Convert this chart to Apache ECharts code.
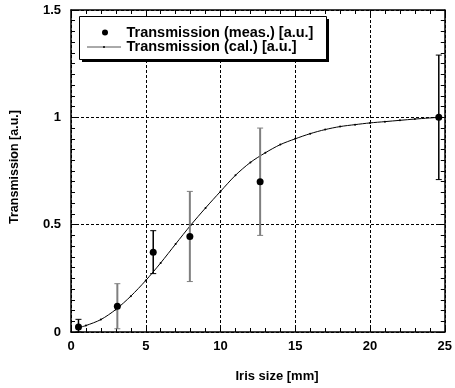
<!DOCTYPE html>
<html>
<head>
<meta charset="utf-8">
<script src="https://cdn.jsdelivr.net/npm/echarts@6/dist/echarts.min.js"></script>
<style>
html,body{margin:0;padding:0;background:#fff;}
#chart{width:455px;height:388px;}
</style>
</head>
<body>
<div id="chart"></div>
<script>
// Measured transmission (points with error bars)
var measX   = [0.5, 3.1, 5.5, 7.95, 12.65, 24.6];
var measY   = [0.023, 0.12, 0.372, 0.445, 0.70, 1.0];
var measErr = [0.036, 0.105, 0.10, 0.21, 0.25, 0.29];
var measErrGray = [0, 1, 0, 1, 1, 0];

// Calculated transmission curve
var calcX = [0.5, 1, 2, 3, 4, 5, 6, 7, 8, 9, 10, 11, 12, 13, 14, 15, 16, 17, 18, 19, 20, 21, 22, 23, 24.6];
var calcY = [0.02, 0.03, 0.058, 0.105, 0.167, 0.24, 0.322, 0.41, 0.497, 0.578, 0.655, 0.73, 0.79, 0.835, 0.873, 0.900, 0.924, 0.943, 0.957, 0.966, 0.974, 0.980, 0.986, 0.992, 1.0];

// Axis ticks
var xTicks = [0, 5, 10, 15, 20, 25];
var yTickLabels = {0: '0', 0.5: '0.5', 1: '1', 1.5: '1.5'};

var FONT = '"Liberation Sans", Arial, Helvetica, sans-serif';

var measData = measX.map(function (x, i) { return [x, measY[i]]; });
var errData = measX.map(function (x, i) { return [x, measY[i], measErr[i], measErrGray[i]]; });
var calcData = calcX.map(function (x, i) { return [x, calcY[i]]; });

var chart = echarts.init(document.getElementById('chart'), null, {renderer: 'canvas'});

function axisCommon(extra) {
  var base = {
    type: 'value',
    axisLine: {show: true, onZero: false, lineStyle: {color: '#000', width: 1.5}},
    axisTick: {show: true, inside: true, length: 6, lineStyle: {color: '#000', width: 1}},
    minorTick: {show: true, length: 4, lineStyle: {color: '#000', width: 1}},
    splitLine: {show: false},
    axisLabel: {show: false}
  };
  for (var k in extra) base[k] = extra[k];
  return base;
}

var option = {
  backgroundColor: '#fff',
  animation: false,
  grid: {left: 71, right: 6, top: 10, bottom: 56, containLabel: false},
  xAxis: [
    axisCommon({
      min: 0, max: 25, interval: 5, position: 'bottom',
      minorTick: {show: true, splitNumber: 5, length: 4, lineStyle: {color: '#000', width: 1}},
      splitLine: {show: true, lineStyle: {color: '#000', width: 1, type: [3, 2]}},
      axisLabel: {show: true, margin: 8, color: '#000', fontFamily: FONT, fontWeight: 'bold', fontSize: 13,
        formatter: function (v) { return xTicks.indexOf(v) >= 0 ? String(v) : ''; }}
    }),
    axisCommon({
      min: 0, max: 25, interval: 5, position: 'top',
      minorTick: {show: true, splitNumber: 5, length: 4, lineStyle: {color: '#000', width: 1}}
    })
  ],
  yAxis: [
    axisCommon({
      min: 0, max: 1.5, interval: 0.5, position: 'left',
      minorTick: {show: true, splitNumber: 10, length: 4, lineStyle: {color: '#000', width: 1}},
      splitLine: {show: true, lineStyle: {color: '#000', width: 1, type: [3, 2]}},
      axisLabel: {show: true, margin: 10, color: '#000', fontFamily: FONT, fontWeight: 'bold', fontSize: 13,
        formatter: function (v) { return yTickLabels[v] !== undefined ? yTickLabels[v] : ''; }}
    }),
    axisCommon({
      min: 0, max: 1.5, interval: 0.5, position: 'right',
      minorTick: {show: true, splitNumber: 10, length: 4, lineStyle: {color: '#000', width: 1}}
    })
  ],
  series: [
    {
      name: 'Transmission (cal.) [a.u.]',
      type: 'line',
      xAxisIndex: 0, yAxisIndex: 0,
      data: calcData,
      smooth: 0.3,
      symbol: 'circle',
      symbolSize: 2,
      showSymbol: true,
      itemStyle: {color: '#000', opacity: 1},
      lineStyle: {color: '#000', width: 1},
      z: 3
    },
    {
      name: 'errors',
      type: 'custom',
      xAxisIndex: 0, yAxisIndex: 0,
      data: errData,
      renderItem: function (params, api) {
        var x = api.value(0), y = api.value(1), e = api.value(2), g = api.value(3);
        var lo = Math.max(0, y - e), hi = y + e;
        var pTop = api.coord([x, hi]);
        var pBot = api.coord([x, lo]);
        var col = g ? '#7f7f7f' : '#000';
        var w = g ? 2 : 1.5;
        var hw = 3;
        return {
          type: 'group',
          children: [
            {type: 'line', shape: {x1: pTop[0], y1: pTop[1], x2: pBot[0], y2: pBot[1]}, style: {stroke: col, lineWidth: w}},
            {type: 'line', shape: {x1: pTop[0] - hw, y1: pTop[1], x2: pTop[0] + hw, y2: pTop[1]}, style: {stroke: col, lineWidth: 1}},
            {type: 'line', shape: {x1: pBot[0] - hw, y1: pBot[1], x2: pBot[0] + hw, y2: pBot[1]}, style: {stroke: col, lineWidth: 1}}
          ]
        };
      },
      z: 4
    },
    {
      name: 'Transmission (meas.) [a.u.]',
      type: 'scatter',
      xAxisIndex: 0, yAxisIndex: 0,
      data: measData,
      symbol: 'circle',
      symbolSize: 7,
      itemStyle: {color: '#000', opacity: 1},
      z: 5
    }
  ],
  graphic: [
    // axis titles
    {type: 'text', x: 277, y: 376, z: 50,
      style: {text: 'Iris size [mm]', fill: '#000', font: 'bold 13px ' + FONT, textAlign: 'center', textVerticalAlign: 'middle'}},
    {type: 'text', x: 15, y: 167, rotation: Math.PI / 2, z: 50,
      style: {text: 'Transmission [a.u.]', fill: '#000', font: 'bold 12.5px ' + FONT, textAlign: 'center', textVerticalAlign: 'middle'}},
    // legend box with shadow
    {type: 'rect', z: 100, shape: {x: 82, y: 19, width: 247, height: 43}, style: {fill: '#000'}},
    {type: 'rect', z: 101, shape: {x: 79.5, y: 16.5, width: 247, height: 43}, style: {fill: '#fff', stroke: '#000', lineWidth: 1}},
    {type: 'circle', z: 102, shape: {cx: 105, cy: 32.5, r: 3}, style: {fill: '#000'}},
    {type: 'line', z: 102, shape: {x1: 87, y1: 47, x2: 121, y2: 47}, style: {stroke: '#555', lineWidth: 1}},
    {type: 'circle', z: 102, shape: {cx: 104, cy: 47, r: 1}, style: {fill: '#000'}},
    {type: 'text', z: 102, x: 126.5, y: 32.5,
      style: {text: 'Transmission (meas.) [a.u.]', fill: '#000', font: 'bold 14.5px ' + FONT, textAlign: 'left', textVerticalAlign: 'middle'}},
    {type: 'text', z: 102, x: 126.5, y: 47,
      style: {text: 'Transmission (cal.) [a.u.]', fill: '#000', font: 'bold 14.5px ' + FONT, textAlign: 'left', textVerticalAlign: 'middle'}}
  ]
};

chart.setOption(option);
</script>
</body>
</html>
